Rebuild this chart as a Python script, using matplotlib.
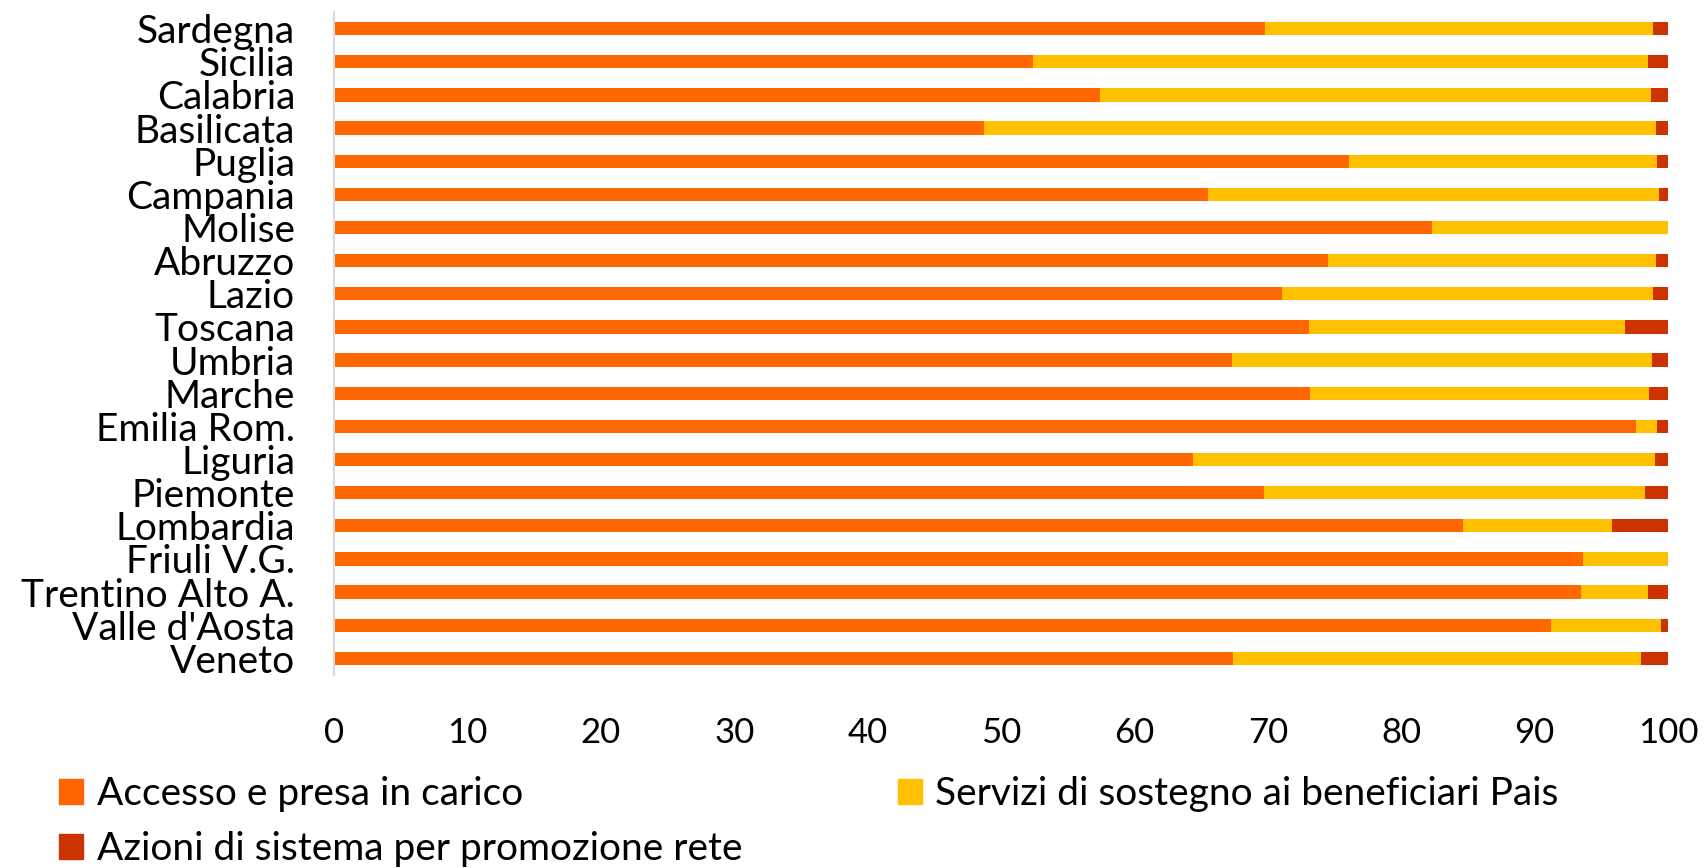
import matplotlib
matplotlib.use("Agg")
import matplotlib.pyplot as plt
from matplotlib.patches import Patch

regions = ["Sardegna", "Sicilia", "Calabria", "Basilicata", "Puglia", "Campania",
           "Molise", "Abruzzo", "Lazio", "Toscana", "Umbria", "Marche",
           "Emilia Rom.", "Liguria", "Piemonte", "Lombardia", "Friuli V.G.",
           "Trentino Alto A.", "Valle d'Aosta", "Veneto"]
accesso = [69.8, 52.4, 57.4, 48.7, 76.1, 65.5, 82.3, 74.5, 71.1, 73.1, 67.3, 73.2,
           97.6, 64.4, 69.7, 84.6, 93.6, 93.5, 91.2, 67.4]
servizi = [29.1, 46.1, 41.3, 50.4, 23.1, 33.8, 17.7, 24.6, 27.8, 23.7, 31.5, 25.4,
           1.6, 34.6, 28.6, 11.2, 6.4, 5.0, 8.3, 30.6]
azioni = [1.1, 1.5, 1.3, 0.9, 0.8, 0.7, 0.0, 0.9, 1.1, 3.2, 1.2, 1.4,
          0.8, 1.0, 1.7, 4.2, 0.0, 1.5, 0.5, 2.0]
series_names = ["Accesso e presa in carico", "Servizi di sostegno ai beneficiari Pais",
                "Azioni di sistema per promozione rete"]
xticks = [0, 10, 20, 30, 40, 50, 60, 70, 80, 90, 100]

c_acc, c_serv, c_az = "#FF6600", "#FFC000", "#CC3300"

plt.rcParams['font.family'] = ['Lato', 'DejaVu Sans']

fig = plt.figure(figsize=(17.06, 8.68), dpi=100)
ax = fig.add_axes([334 / 1706, 1 - 675 / 868, (1668 - 334) / 1706, (675 - 12) / 868])

y = list(range(len(regions)))
left2 = [a for a in accesso]
left3 = [a + s for a, s in zip(accesso, servizi)]
h = 0.4
ax.barh(y, accesso, height=h, color=c_acc, linewidth=0)
ax.barh(y, servizi, left=left2, height=h, color=c_serv, linewidth=0)
ax.barh(y, azioni, left=left3, height=h, color=c_az, linewidth=0)

ax.set_ylim(len(regions) - 0.5, -0.5)
ax.set_xlim(0, 100)
ax.set_yticks(y)
ax.set_yticklabels(regions, fontsize=28, va='center_baseline')
ax.set_xticks(xticks)
ax.set_xticklabels([str(t) for t in xticks], fontsize=25)
ax.tick_params(axis='y', length=0, pad=28)
ax.tick_params(axis='x', length=0, pad=30)
for s in ["top", "right", "bottom"]:
    ax.spines[s].set_visible(False)
ax.spines["left"].set_color("#d9d9d9")
ax.spines["left"].set_linewidth(1.5)

handles = [Patch(color=c_acc), Patch(color=c_az), Patch(color=c_serv)]
labels = [series_names[0], series_names[2], series_names[1]]
fig.legend(handles, labels, ncol=2, loc="upper left",
           bbox_to_anchor=(59 / 1706, 1 - 776 / 868), frameon=False,
           fontsize=28, handlelength=0.62, handleheight=0.62, handletextpad=0.35,
           columnspacing=4.0, labelspacing=0.5, borderpad=0, borderaxespad=0)

fig.savefig("out.png", dpi=100)
